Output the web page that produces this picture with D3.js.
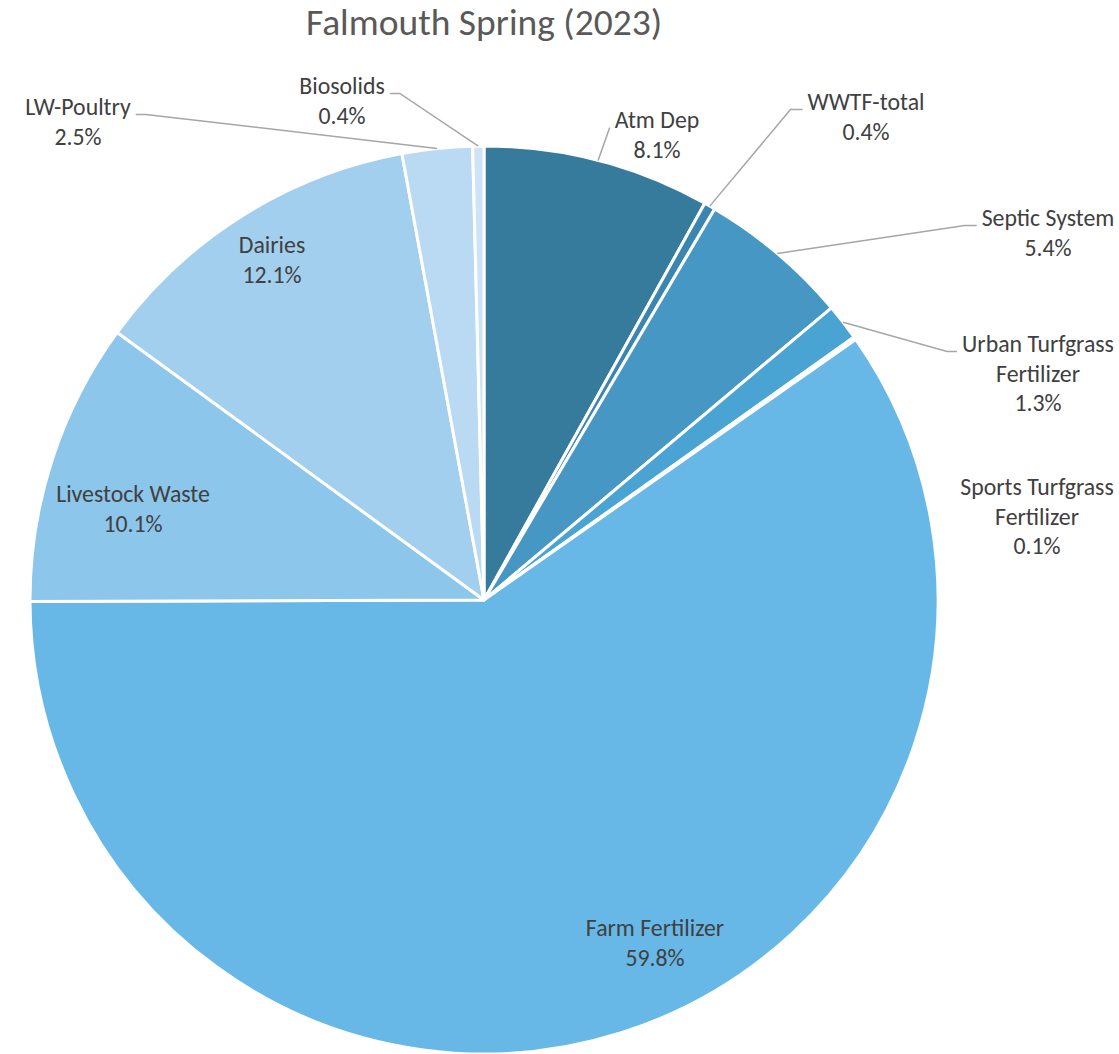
<!DOCTYPE html>
<html>
<head>
<meta charset="utf-8">
<script src="https://cdn.jsdelivr.net/npm/d3@7"></script>
<style>
  html, body { margin: 0; padding: 0; background: #fff; }
  svg { display: block; }
  text { font-family: Carlito, Calibri, "Open Sans", Lato, sans-serif; }
</style>
</head>
<body>
<svg id="chart" width="1119" height="1054"></svg>
<script>
// Nitrogen load sources, clockwise from 12 o'clock
const sources = [
  ["Atm Dep"],
  ["WWTF-total"],
  ["Septic System"],
  ["Urban Turfgrass", "Fertilizer"],
  ["Sports Turfgrass", "Fertilizer"],
  ["Farm Fertilizer"],
  ["Livestock Waste"],
  ["Dairies"],
  ["LW-Poultry"],
  ["Biosolids"]
];
const shares = [8.1, 0.4, 5.4, 1.3, 0.1, 59.8, 10.1, 12.1, 2.5, 0.4];
const sliceColors = [
  "#367a9c", "#3b86b1", "#4697c4", "#4aa4d3", "#58afe0",
  "#68b8e7", "#8cc6eb", "#a3cfee", "#bad9f2", "#cee4f6"
];

// Label placement: text block centre offset from pie centre (px),
// which side the leader attaches to, and the leader's horizontal stub.
const labelLayout = [
  { dx: 173,  dy: -480, side: "right", stub: 0,  leader: true },
  { dx: 382,  dy: -498, side: "right", stub: 12, leader: true },
  { dx: 564,  dy: -382, side: "right", stub: 12, leader: true },
  { dx: 554,  dy: -256, side: "right", stub: 10, leader: true },
  { dx: 553,  dy: -113, side: "right", stub: 0,  leader: false },
  { dx: 171,  dy: 328,  side: "in",    stub: 0,  leader: false },
  { dx: -351, dy: -106, side: "in",    stub: 0,  leader: false },
  { dx: -212, dy: -355, side: "in",    stub: 0,  leader: false },
  { dx: -406, dy: -493, side: "left",  stub: 10, leader: true },
  { dx: -142, dy: -514, side: "left",  stub: 10, leader: true }
];

const title = "Falmouth Spring (2023)";

const W = 1119, H = 1054;
const cx = 484, cy = 600, radius = 454;
const lineGap = 29.8;
const labelSize = 23.8;

const svg = d3.select("#chart");

svg.append("text")
  .attr("x", cx)
  .attr("y", 22)
  .attr("dy", "0.35em")
  .attr("text-anchor", "middle")
  .attr("fill", "#595959")
  .attr("font-size", 37.5)
  .text(title);

const rows = shares.map((v, i) => ({ lines: sources[i], value: v, color: sliceColors[i], layout: labelLayout[i] }));

const pie = d3.pie().sort(null).value(d => d.value);
const arcs = pie(rows);
const arc = d3.arc().innerRadius(0).outerRadius(radius);

const g = svg.append("g").attr("transform", `translate(${cx},${cy})`);

g.selectAll("path.slice")
  .data(arcs)
  .join("path")
  .attr("class", "slice")
  .attr("d", arc)
  .attr("fill", d => d.data.color)
  .attr("stroke", "#fff")
  .attr("stroke-width", 3)
  .attr("stroke-linejoin", "round");

// Labels
const labels = g.selectAll("g.label")
  .data(arcs)
  .join("g")
  .attr("class", "label");

labels.each(function (d) {
  const L = d.data.layout;
  const t = d3.select(this).append("text")
    .attr("text-anchor", "middle")
    .attr("fill", "#404040")
    .attr("font-size", labelSize);
  const all = d.data.lines.concat([d3.format(".1f")(d.data.value) + "%"]);
  all.forEach((s, k) => {
    t.append("tspan")
      .attr("x", L.dx)
      .attr("y", L.dy + k * lineGap)
      .attr("dy", "0.33em")
      .text(s);
  });
});

// Leader lines from the slice rim (mid-angle) to the label's first line
const leaderGroup = g.append("g");
labels.each(function (d) {
  const L = d.data.layout;
  if (!L.leader) return;
  const first = d3.select(this).select("tspan").node();
  const w = first.getComputedTextLength();
  const mid = (d.startAngle + d.endAngle) / 2;
  const p0 = [radius * Math.sin(mid), -radius * Math.cos(mid)];
  const yb = L.dy + 7.5;
  let pEnd, pElbow;
  if (L.side === "right") {
    pEnd = [L.dx - w / 2 - 5, yb];
    pElbow = [pEnd[0] - L.stub, yb];
  } else {
    pEnd = [L.dx + w / 2 + 5, yb];
    pElbow = [pEnd[0] + L.stub, yb];
  }
  const pts = L.stub > 0 ? [p0, pElbow, pEnd] : [p0, pEnd];
  leaderGroup.append("path")
    .attr("d", d3.line()(pts))
    .attr("fill", "none")
    .attr("stroke", "#a6a6a6")
    .attr("stroke-width", 1.5);
});
</script>
</body>
</html>
